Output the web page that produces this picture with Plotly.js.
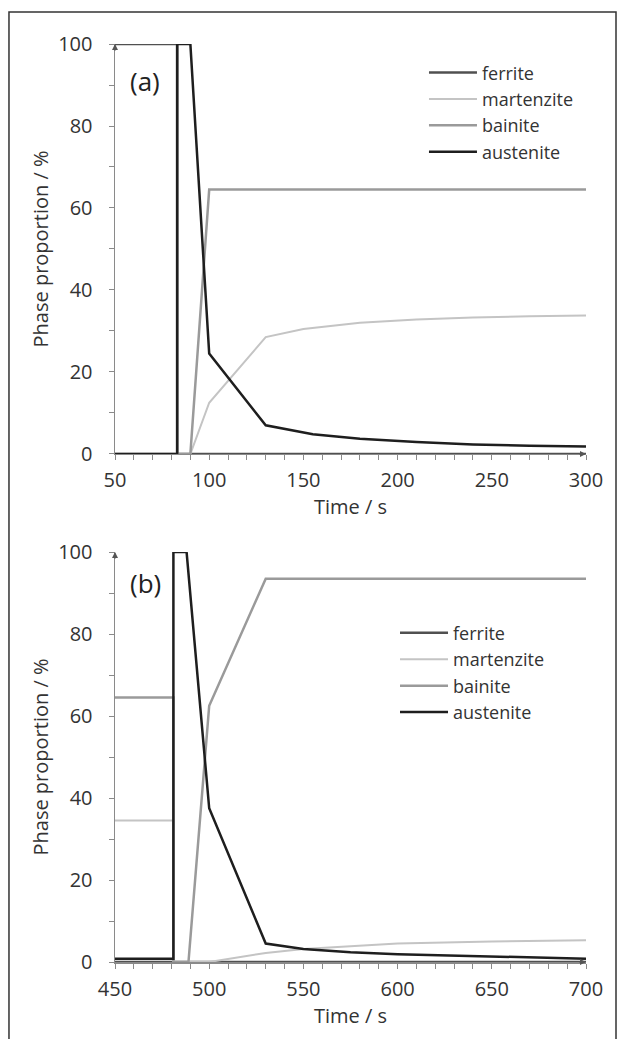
<!DOCTYPE html>
<html>
<head>
<meta charset="utf-8">
<script src="https://cdn.plot.ly/plotly-3.0.1.min.js"></script>
<style>html,body{margin:0;padding:0;background:#fff;}#chart{width:624px;height:1039px;}</style>
</head>
<body>
<div id="chart"></div>
<script>
// ---- Panel (a) data ----
const ferriteA_t = [50, 83, 83, 300];
const ferriteA_v = [100, 100, 0, 0];
const martA_t = [50, 90, 100, 130, 150, 180, 210, 240, 270, 300];
const martA_v = [0, 0, 12.5, 28.5, 30.5, 32, 32.8, 33.3, 33.6, 33.8];
const bainA_t = [50, 90, 100, 300];
const bainA_v = [0, 0, 64.5, 64.5];
const austA_t = [50, 83, 83, 90, 100, 130, 155, 180, 210, 240, 270, 300];
const austA_v = [0, 0, 100, 100, 24.5, 7, 4.8, 3.7, 2.9, 2.3, 2.0, 1.8];

// ---- Panel (b) data ----
const ferriteB_t = [450, 700];
const ferriteB_v = [0, 0];
const martB_t = [450, 481, 481, 500, 530, 550, 600, 650, 700];
const martB_v = [34.5, 34.5, 0, 0, 2.2, 3.2, 4.5, 5.0, 5.3];
const bainB_t = [450, 481, 481, 489, 500, 530, 700];
const bainB_v = [64.5, 64.5, 0, 0, 62.5, 93.5, 93.5];
const austB_t = [450, 481, 481, 488, 500, 530, 550, 575, 600, 650, 700];
const austB_v = [0.8, 0.8, 100, 100, 37.5, 4.5, 3.2, 2.4, 1.9, 1.3, 0.8];

const names = ['ferrite', 'martenzite', 'bainite', 'austenite'];
const colors = ['#505050', '#c4c4c4', '#9a9a9a', '#1e1e1e'];
const widths = [2.5, 2, 2.5, 2.5];

function tr(t, v, i, xa, ya, leg) {
  return {x: t, y: v, type: 'scatter', mode: 'lines', name: names[i],
    xaxis: xa, yaxis: ya, legend: leg,
    line: {color: colors[i], width: widths[i]}};
}

const data = [
  tr(ferriteA_t, ferriteA_v, 0, 'x', 'y', 'legend'),
  tr(martA_t, martA_v, 1, 'x', 'y', 'legend'),
  tr(bainA_t, bainA_v, 2, 'x', 'y', 'legend'),
  tr(austA_t, austA_v, 3, 'x', 'y', 'legend'),
  tr(ferriteB_t, ferriteB_v, 0, 'x2', 'y2', 'legend2'),
  tr(martB_t, martB_v, 1, 'x2', 'y2', 'legend2'),
  tr(bainB_t, bainB_v, 2, 'x2', 'y2', 'legend2'),
  tr(austB_t, austB_v, 3, 'x2', 'y2', 'legend2')
];

const F = 'Open Sans, Noto Sans, sans-serif';
const axCommon = {
  showline: true, linecolor: '#8a8a8a', linewidth: 1.5,
  showgrid: false, zeroline: false,
  ticks: 'outside', ticklen: 5, tickcolor: '#8a8a8a', tickwidth: 1,
  tickfont: {family: F, size: 20, color: '#333'},
  fixedrange: true
};
function xax(range, anchor) {
  return Object.assign({}, axCommon, {
    range: range, anchor: anchor, domain: [0, 1], tick0: range[0], dtick: 50,
    minor: {dtick: 10, ticks: 'outside', ticklen: 5, tickcolor: '#8a8a8a'},
    ticklabelstandoff: 3,
    title: {text: 'Time / s', font: {family: F, size: 20, color: '#333'}, standoff: 0}
  });
}
function yax(domain, anchor) {
  return Object.assign({}, axCommon, {
    range: [0, 100], anchor: anchor, domain: domain, tick0: 0, dtick: 20,
    minor: {dtick: 10, ticks: 'outside', ticklen: 5, tickcolor: '#8a8a8a'},
    ticklabelstandoff: 12,
    title: {text: 'Phase proportion / %', font: {family: F, size: 20, color: '#333'}, standoff: 4}
  });
}
const legFont = {family: F, size: 18, color: '#333'};
const layout = {
  width: 624, height: 1039,
  margin: {l: 115, r: 38, t: 44, b: 77},
  paper_bgcolor: '#fff', plot_bgcolor: '#fff',
  showlegend: true,
  xaxis: xax([50, 300], 'y'),
  yaxis: yax([0.5534, 1], 'x'),
  xaxis2: xax([450, 700], 'y2'),
  yaxis2: yax([0, 0.4466], 'x2'),
  legend: {x: 0.656, y: 0.9887, xanchor: 'left', yanchor: 'top', font: legFont,
    bgcolor: 'rgba(0,0,0,0)', itemwidth: 48, tracegroupgap: 0},
  legend2: {x: 0.5945, y: 0.3784, xanchor: 'left', yanchor: 'top', font: legFont,
    bgcolor: 'rgba(0,0,0,0)', itemwidth: 48, tracegroupgap: 0},
  annotations: [
    {x: 66, y: 91, xref: 'x', yref: 'y', text: '(a)', showarrow: false,
     font: {family: F, size: 26, color: '#222'}},
    {x: 466, y: 92.5, xref: 'x2', yref: 'y2', text: '(b)', showarrow: false,
     font: {family: F, size: 26, color: '#222'}},
    {x: 50, y: 100, xref: 'x', yref: 'y', text: '', showarrow: true, ax: 0, ay: 8,
     arrowhead: 2, arrowsize: 0.8, arrowwidth: 1.5, arrowcolor: '#555'},
    {x: 300, y: 0, xref: 'x', yref: 'y', text: '', showarrow: true, ax: -8, ay: 0,
     arrowhead: 2, arrowsize: 0.8, arrowwidth: 1.5, arrowcolor: '#555'},
    {x: 450, y: 100, xref: 'x2', yref: 'y2', text: '', showarrow: true, ax: 0, ay: 8,
     arrowhead: 2, arrowsize: 0.8, arrowwidth: 1.5, arrowcolor: '#555'},
    {x: 700, y: 0, xref: 'x2', yref: 'y2', text: '', showarrow: true, ax: -8, ay: 0,
     arrowhead: 2, arrowsize: 0.8, arrowwidth: 1.5, arrowcolor: '#555'}
  ],
  shapes: [
    {type: 'path', xref: 'paper', yref: 'paper',
     path: 'M -0.2251,-0.095 L -0.2251,1.0349 L 1.0637,1.0349 L 1.0637,-0.095',
     line: {color: '#333', width: 1.5}}
  ]
};
Plotly.newPlot('chart', data, layout, {displayModeBar: false, staticPlot: true});
</script>
</body>
</html>
